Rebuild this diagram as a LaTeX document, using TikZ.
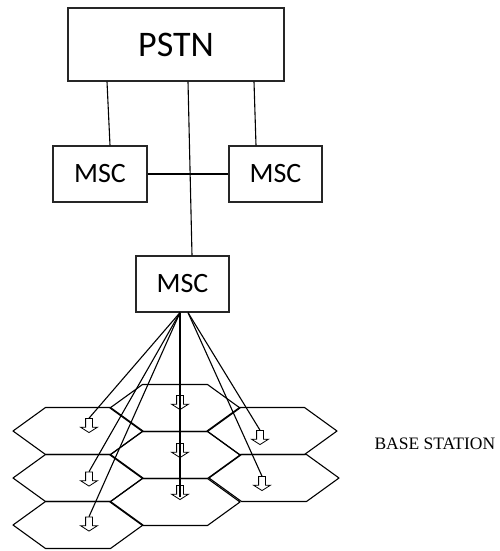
\documentclass[tikz,border=0pt]{standalone}
\usepackage{fontspec}
\setmainfont{Liberation Serif}
\newfontfamily\boxfont{Carlito}
\usetikzlibrary{positioning, shapes.arrows}

\begin{document}
\begin{tikzpicture}[x=1pt, y=-1pt,
    box/.style={draw, line width=1.2pt, draw=black!85, inner sep=0pt, font=\boxfont\fontsize{28}{30}\selectfont},
    link/.style={line width=1.1pt},
    cell/.style={line width=1.1pt, line join=round},
    bsarrow/.style={single arrow, draw, line width=0.8pt, inner sep=3pt, minimum height=14pt,
                    single arrow head extend=5pt, single arrow tip angle=115, shape border rotate=270}]
    \useasboundingbox (0,0) rectangle (499,551);

    % switching
    \node (pstn) [box, minimum width=216pt, minimum height=73pt, font=\boxfont\fontsize{36}{40}\selectfont] at (176,44.5) {PSTN};
    \node (mscL) [box, minimum width=94pt, minimum height=56pt] at (100,174)   {MSC};
    \node (mscR) [box, minimum width=93pt, minimum height=56pt] at (275.5,174) {MSC};
    \node (mscB) [box, minimum width=93pt, minimum height=56pt] at (182.5,284) {MSC};

    \draw [link] ([xshift=-69pt]pstn.south) -- ([xshift=10pt]mscL.north);
    \draw [link] ([xshift=78pt]pstn.south)  -- ([xshift=-19.5pt]mscR.north);
    \draw [link] ([xshift=12pt]pstn.south)  -- ([xshift=9.5pt]mscB.north);
    \draw [link] (mscL.east) -- (mscR.west);

    % cells
    \foreach \cx/\cy in {78/431, 78/478, 78/525, 175/408, 175/455, 175/502, 272/431, 274/478}
        \draw [cell] (\cx,\cy) ++(-65,0) -- ++(32.5,-23.5) -- ++(65,0) -- ++(32.5,23.5)
                     -- ++(-32.5,23.5) -- ++(-65,0) -- cycle;

    % base stations
    \node (al1) [bsarrow] at (89,424.5)  {};
    \node (al2) [bsarrow] at (89,478)    {};
    \node (al3) [bsarrow] at (89,523)    {};
    \node (am1) [bsarrow] at (180,401.5) {};
    \node (am2) [bsarrow] at (180,449.5) {};
    \node (am3) [bsarrow] at (180,491.5) {};
    \node (ar1) [bsarrow] at (260,436.5) {};
    \node (ar2) [bsarrow] at (262,482.5) {};
    \node (bs)  [anchor=west, font=\fontsize{17.5}{20}\selectfont] at (371,443.7) {BASE STATION};

    \coordinate (fanL) at ([xshift=-2.5pt]mscB.south);
    \coordinate (fanR) at ([xshift=5.5pt]mscB.south);
    \draw [link] (fanL) -- (al1.tail);
    \draw [link] (fanL) -- (al2.tail);
    \draw [link] (fanL) -- (al3.tail);
    \draw [link] (fanL) -- ([yshift=3pt]am3.tip);
    \draw [link] (fanR) -- (ar1.tail);
    \draw [link] (fanR) -- (ar2.tail);
\end{tikzpicture}
\end{document}
